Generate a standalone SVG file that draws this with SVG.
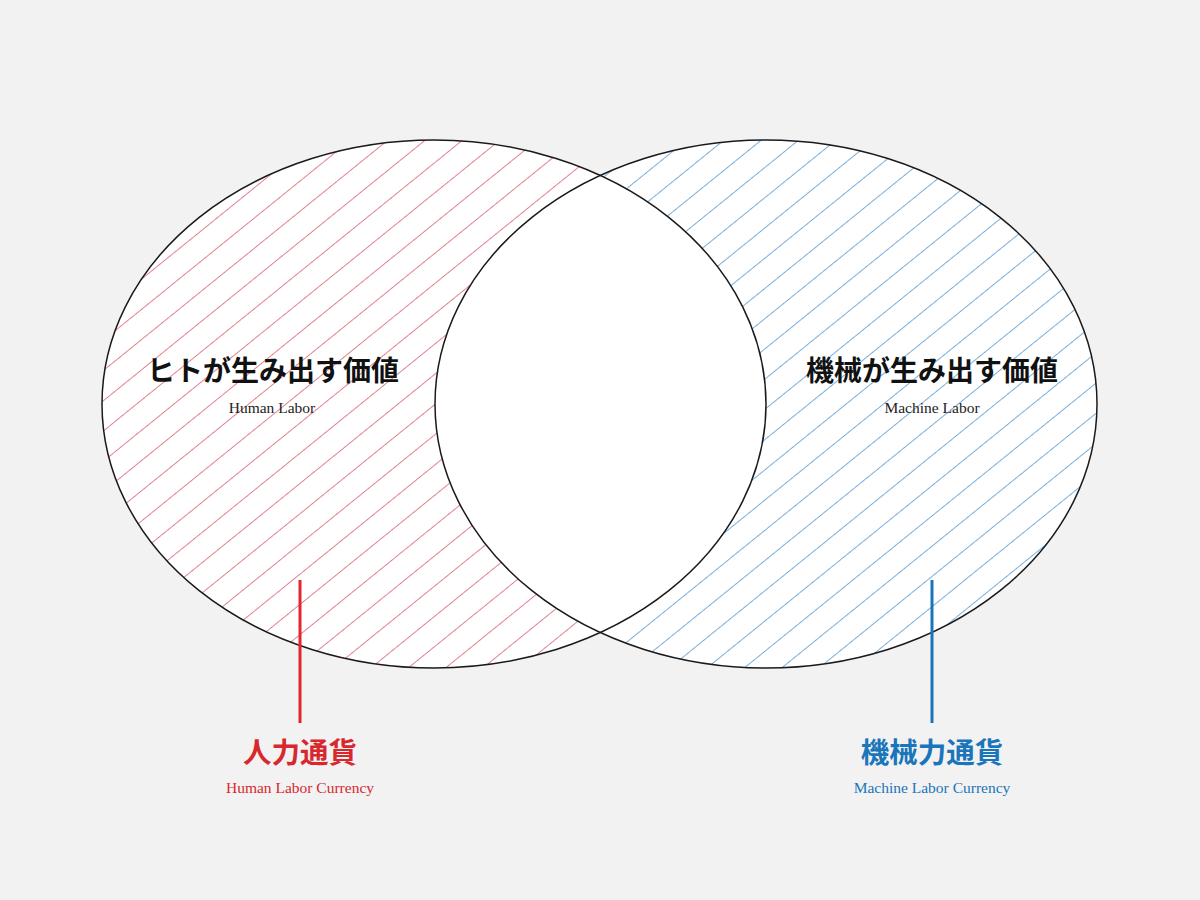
<svg xmlns="http://www.w3.org/2000/svg" width="1200" height="900" viewBox="0 0 1200 900">
  <style>
    .jp { font-family: "Noto Sans CJK JP", "Noto Sans", sans-serif; font-weight: 700; text-anchor: middle; }
    .en { font-family: "Liberation Serif", "DejaVu Serif", serif; text-anchor: middle; }
    .outline { fill: none; stroke: #1a1a1a; stroke-width: 1.5; }
  </style>
  <defs>
    <pattern id="hatchRed" patternUnits="userSpaceOnUse" width="23.5" height="23.5" patternTransform="rotate(-39)">
      <line x1="0" y1="0.5" x2="23.5" y2="0.5" stroke="#e3808d" stroke-width="1"/>
    </pattern>
    <pattern id="hatchBlue" patternUnits="userSpaceOnUse" width="23.5" height="23.5" patternTransform="rotate(-39)">
      <line x1="0" y1="0.5" x2="23.5" y2="0.5" stroke="#78aedb" stroke-width="1"/>
    </pattern>
    <clipPath id="clipLeft">
      <ellipse cx="434" cy="404" rx="332" ry="264"/>
    </clipPath>
  </defs>
  <rect width="1200" height="900" fill="#f2f2f2"/>

  <g id="human-labor">
    <ellipse cx="434" cy="404" rx="332" ry="264" fill="#ffffff"/>
    <ellipse cx="434" cy="404" rx="332" ry="264" fill="url(#hatchRed)"/>
  </g>
  <g id="machine-labor">
    <ellipse cx="766" cy="404" rx="331" ry="264" fill="#ffffff"/>
    <ellipse cx="766" cy="404" rx="331" ry="264" fill="url(#hatchBlue)"/>
  </g>
  <g id="overlap">
    <ellipse cx="766" cy="404" rx="331" ry="264" fill="#ffffff" clip-path="url(#clipLeft)"/>
  </g>
  <g id="outlines">
    <ellipse class="outline" cx="434" cy="404" rx="332" ry="264"/>
    <ellipse class="outline" cx="766" cy="404" rx="331" ry="264"/>
  </g>

  <g id="label-human">
    <text class="jp" x="273" y="381" font-size="28" fill="#111111">ヒトが生み出す価値</text>
    <text class="en" x="272" y="413" font-size="15.5" fill="#222222">Human Labor</text>
  </g>
  <g id="label-machine">
    <text class="jp" x="932" y="381" font-size="28" fill="#111111">機械が生み出す価値</text>
    <text class="en" x="932" y="413" font-size="15.5" fill="#222222">Machine Labor</text>
  </g>

  <g id="connectors">
    <line x1="300" y1="580" x2="300" y2="723" stroke="#e0262e" stroke-width="3"/>
    <line x1="932" y1="580" x2="932" y2="723" stroke="#1b75bb" stroke-width="3"/>
  </g>

  <g id="human-currency">
    <text class="jp" x="300" y="763" font-size="28.5" fill="#d9272e">人力通貨</text>
    <text class="en" x="300" y="793" font-size="15.5" fill="#d9272e">Human Labor Currency</text>
  </g>
  <g id="machine-currency">
    <text class="jp" x="932" y="763" font-size="28.5" fill="#1b75bb">機械力通貨</text>
    <text class="en" x="932" y="793" font-size="15.5" fill="#1b75bb">Machine Labor Currency</text>
  </g>
</svg>
